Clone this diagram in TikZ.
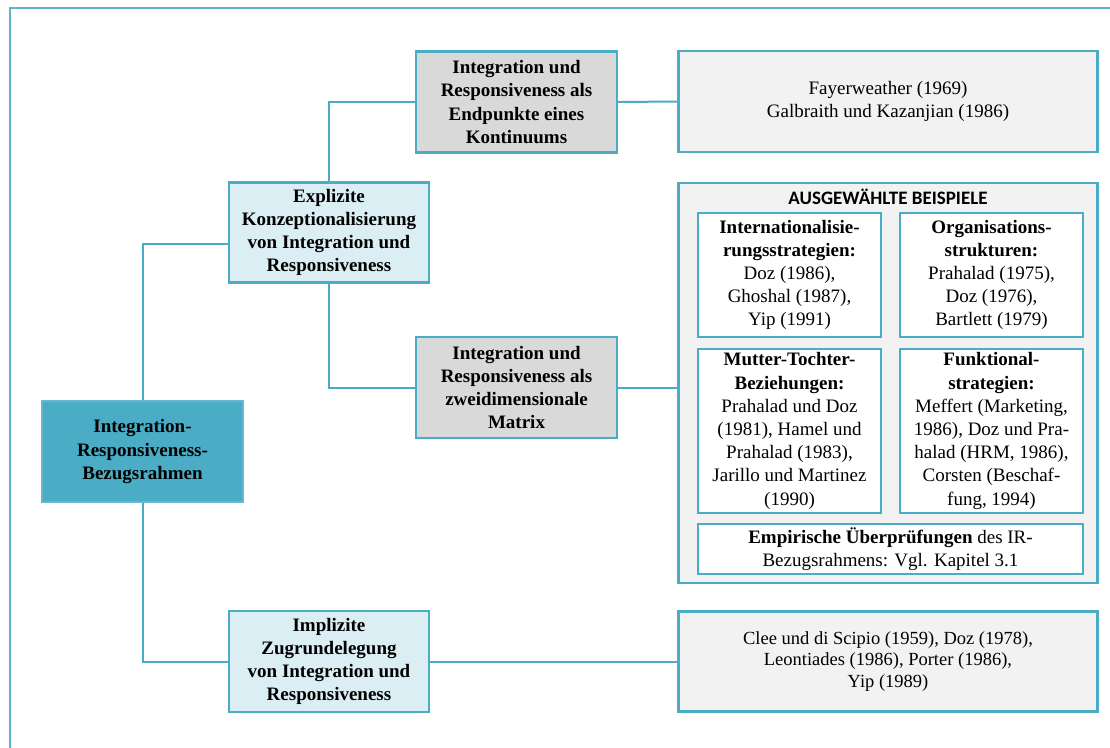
\documentclass[tikz,border=0pt]{standalone}
\usepackage{fontspec}
\setmainfont{Liberation Serif}
\newfontfamily\bodyfont{Liberation Serif}
\newfontfamily\headfont{Carlito}
\definecolor{aqua}{HTML}{4BACC6}
\definecolor{paleblue}{HTML}{DAEEF3}
\definecolor{midgray}{HTML}{D9D9D9}
\definecolor{litegray}{HTML}{F2F2F2}
\tikzset{
  box/.style={draw=aqua, line width=2.3pt, align=center, inner sep=0pt,
    font=\bodyfont\fontsize{19}{23.2}\selectfont},
  rootbox/.style={box, fill=aqua, draw=aqua!85!white, line width=1.2pt},
  bluebox/.style={box, fill=paleblue},
  graybox/.style={box, fill=midgray},
  litebox/.style={box, fill=litegray},
  whitebox/.style={box, fill=white},
  link/.style={draw=aqua, line width=2pt},
  frame/.style={draw=aqua!90!white, line width=2pt}
}
\begin{document}
\begin{tikzpicture}[x=1pt, y=-1pt]
\useasboundingbox (0,0) rectangle (1110,747);
\clip (0,0) rectangle (1110,747);
% outer frame, running past the page edges on the right and bottom
\draw[frame] (9.5,8.3) rectangle (1140,780);

% root of the tree
\node[rootbox, minimum width=201pt, minimum height=101pt] (root) at (142.5,451.5)
  {\textbf{Integration-}\\\textbf{Responsiveness-}\\\textbf{Bezugsrahmen}};

% second level
\node[bluebox, minimum width=200pt, minimum height=100pt] (expl) at (329,232.5)
  {\textbf{Explizite}\\\textbf{Konzeptionalisierung}\\\textbf{von Integration und}\\\textbf{Responsiveness}};
\node[bluebox, minimum width=200pt, minimum height=101pt] (impl) at (329,661.5)
  {\textbf{Implizite}\\\textbf{Zugrundelegung}\\\textbf{von Integration und}\\\textbf{Responsiveness}};

% third level
\node[graybox, minimum width=201pt, minimum height=101pt] (endp) at (516.5,102)
  {\textbf{Integration und}\\\textbf{Responsiveness als}\\\textbf{Endpunkte eines}\\\textbf{Kontinuums}};
\node[graybox, minimum width=201pt, minimum height=101pt] (matrix) at (516.5,387.5)
  {\textbf{Integration und}\\\textbf{Responsiveness als}\\\textbf{zweidimensionale}\\\textbf{Matrix}};

% literature boxes
\node[litebox, minimum width=419pt, minimum height=101pt] (fayer) at (888,101.5)
  {Fayerweather (1969)\\Galbraith und Kazanjian (1986)};
\node[litebox, minimum width=419pt, minimum height=100pt,
  font=\bodyfont\fontsize{18.5}{21.7}\selectfont] (clee) at (888,661.5)
  {Clee und di Scipio (1959), Doz (1978),\\Leontiades (1986), Porter (1986),\\Yip (1989)};

% selected examples panel
\node[litebox, minimum width=419pt, minimum height=400pt] (ausw) at (888,383) {};
\node[font=\headfont\bfseries\fontsize{19}{22}\selectfont, inner sep=0pt] (head) at (888,197)
  {AUSGEWÄHLTE BEISPIELE};
\node[whitebox, minimum width=183pt, minimum height=124pt] (intl) at (789.5,275)
  {\textbf{Internationalisie-}\\\textbf{rungsstrategien:}\\Doz (1986),\\Ghoshal (1987),\\Yip (1991)};
\node[whitebox, minimum width=183pt, minimum height=124pt] (orga) at (991.5,275)
  {\textbf{Organisations-}\\\textbf{strukturen:}\\Prahalad (1975),\\Doz (1976),\\Bartlett (1979)};
\node[whitebox, minimum width=183pt, minimum height=164pt] (mutt) at (789.5,431)
  {\textbf{Mutter-Tochter-}\\\textbf{Beziehungen:}\\Prahalad und Doz\\(1981), Hamel und\\Prahalad (1983),\\Jarillo und Martinez\\(1990)};
\node[whitebox, minimum width=183pt, minimum height=164pt] (funk) at (991.5,431)
  {\textbf{Funktional-}\\\textbf{strategien:}\\Meffert (Marketing,\\1986), Doz und Pra-\\halad (HRM, 1986),\\Corsten (Beschaf-\\fung, 1994)};
\node[whitebox, minimum width=385pt, minimum height=50pt] (empi) at (890.5,549)
  {\textbf{Empirische Überprüfungen} des IR-\\Bezugsrahmens: Vgl. Kapitel 3.1};

% connectors
\draw[link] (root.north) |- ([yshift=-11.5pt]expl.west);
\draw[link] (root.south) |- (impl.west);
\draw[link] (expl.north) |- (endp.west);
\draw[link] (expl.south) |- (matrix.west);
\draw[link] (endp.east) -- (fayer.west);
\draw[link] (matrix.east) -- (matrix.east -| ausw.west);
\draw[link] (impl.east) -- (clee.west);
\end{tikzpicture}
\end{document}
